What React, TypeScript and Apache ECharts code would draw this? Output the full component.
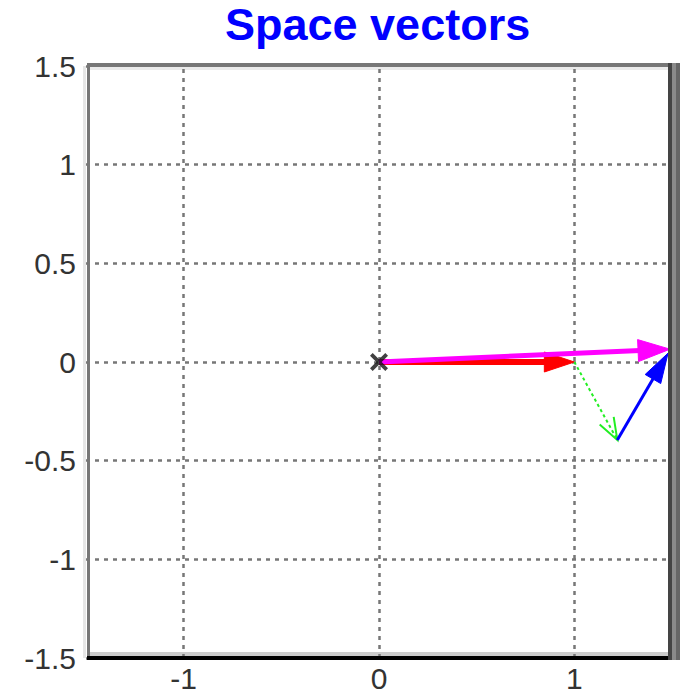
import React, { useEffect, useRef } from "react";
import * as echarts from "echarts";

// ---- data ----
const titleText = "Space vectors";
const xRange = [-1.5, 1.5];
const yRange = [-1.5, 1.5];
const tickStep = 0.5;
const xGridValues = [-1, 0, 1];
// vectors: [x0, y0, x1, y1]
const redVector = [0, 0, 1.0, 0];
const greenVector = [1.0, 0, 1.22, -0.395];
const blueVector = [1.22, -0.395, 1.48, 0.045];
const magentaVector = [0, 0, 1.49, 0.065];
const originMarker = [0, 0];

const FONT = "'Liberation Sans', Arial, Helvetica, sans-serif";

type HeadStyle = "filled" | "open";

function makeArrow(
  color: string,
  width: number,
  dash: number[] | null,
  headLen: number,
  headWid: number,
  head: HeadStyle
) {
  return (_params: any, api: any) => {
    const p0 = api.coord([api.value(0), api.value(1)]);
    const p1 = api.coord([api.value(2), api.value(3)]);
    const dx = p1[0] - p0[0];
    const dy = p1[1] - p0[1];
    const len = Math.hypot(dx, dy) || 1;
    const ux = dx / len;
    const uy = dy / len;
    const px = -uy;
    const py = ux;
    const bx = p1[0] - ux * headLen;
    const by = p1[1] - uy * headLen;
    const left = [bx + (px * headWid) / 2, by + (py * headWid) / 2];
    const right = [bx - (px * headWid) / 2, by - (py * headWid) / 2];
    const lineEnd = head === "filled" ? [bx + ux * 2, by + uy * 2] : p1;
    const children: any[] = [
      {
        type: "line",
        shape: { x1: p0[0], y1: p0[1], x2: lineEnd[0], y2: lineEnd[1] },
        style: {
          stroke: color,
          lineWidth: width,
          lineDash: dash || undefined,
          fill: null,
        },
      },
    ];
    if (head === "filled") {
      children.push({
        type: "polygon",
        shape: { points: [[p1[0], p1[1]], left, right] },
        style: { fill: color, stroke: color, lineWidth: 1 },
      });
    } else {
      children.push({
        type: "polyline",
        shape: { points: [left, [p1[0], p1[1]], right] },
        style: { stroke: color, lineWidth: width, fill: null },
      });
    }
    return { type: "group", children };
  };
}

const gridLineStyle = { type: [4, 5] as number[], color: "#777", width: 2.5 };

export default function App() {
  const ref = useRef<HTMLDivElement>(null);

  useEffect(() => {
    if (!ref.current) return;
    const chart = echarts.init(ref.current, undefined, { renderer: "svg" });

    const option: any = {
      animation: false,
      backgroundColor: "#ffffff",
      title: {
        text: titleText,
        left: 225,
        top: 2,
        padding: 0,
        textStyle: {
          fontSize: 45,
          fontWeight: "bold",
          color: "#0000ff",
          fontFamily: FONT,
        },
      },
      grid: { left: 86, right: 688 - 672, top: 66, bottom: 699 - 658 },
      xAxis: {
        type: "value",
        min: xRange[0],
        max: xRange[1],
        interval: tickStep,
        axisLine: { show: false },
        axisTick: { show: false },
        splitLine: { show: false },
        axisLabel: {
          margin: 5,
          fontSize: 30,
          color: "#333333",
          fontFamily: FONT,
          showMinLabel: false,
          showMaxLabel: false,
          formatter: (v: number) =>
            xGridValues.some((g) => Math.abs(g - v) < 1e-9) ? String(v) : "",
        },
      },
      yAxis: {
        type: "value",
        min: yRange[0],
        max: yRange[1],
        interval: tickStep,
        axisLine: { show: false },
        axisTick: { show: false },
        splitLine: { show: true, lineStyle: gridLineStyle },
        axisLabel: {
          margin: 10,
          fontSize: 30,
          color: "#333333",
          fontFamily: FONT,
          formatter: (v: number) => String(v),
        },
      },
      graphic: [
        // light inner/outer frame lines
        { type: "rect", z: 1, shape: { x: 83, y: 66, width: 3, height: 592 }, style: { fill: "#e6e6e6" } },
        { type: "rect", z: 1, shape: { x: 90, y: 67, width: 578, height: 3 }, style: { fill: "#ebebeb" } },
        { type: "rect", z: 1, shape: { x: 90, y: 652, width: 578, height: 4 }, style: { fill: "#cccccc" } },
        // frame
        { type: "rect", z: 100, shape: { x: 87, y: 63, width: 3, height: 597 }, style: { fill: "#777777" } },
        { type: "rect", z: 100, shape: { x: 87, y: 63, width: 593, height: 4 }, style: { fill: "#777777" } },
        { type: "rect", z: 100, shape: { x: 87, y: 656, width: 585, height: 4 }, style: { fill: "#000000" } },
        { type: "rect", z: 100, shape: { x: 668, y: 63, width: 4, height: 597 }, style: { fill: "#444444" } },
        { type: "rect", z: 100, shape: { x: 672, y: 63, width: 4, height: 597 }, style: { fill: "#8a8a8a" } },
        { type: "rect", z: 100, shape: { x: 676, y: 63, width: 4, height: 597 }, style: { fill: "#666666" } },
      ],
      series: [
        {
          type: "custom",
          name: "red",
          z: 2,
          renderItem: makeArrow("#ff0000", 6, null, 30, 20, "filled"),
          encode: { x: [0, 2], y: [1, 3] },
          data: [redVector],
          markLine: {
            silent: true,
            symbol: ["none", "none"],
            label: { show: false },
            lineStyle: gridLineStyle,
            data: xGridValues.map((v) => ({ xAxis: v })),
          },
        },
        {
          type: "custom",
          name: "green",
          z: 3,
          renderItem: makeArrow("#22ee22", 2, [3, 3], 22, 16, "open"),
          encode: { x: [0, 2], y: [1, 3] },
          data: [greenVector],
        },
        {
          type: "custom",
          name: "blue",
          z: 4,
          renderItem: makeArrow("#0000ff", 3, null, 30, 18, "filled"),
          encode: { x: [0, 2], y: [1, 3] },
          data: [blueVector],
        },
        {
          type: "custom",
          name: "magenta",
          z: 5,
          renderItem: makeArrow("#ff00ff", 5, null, 32, 22, "filled"),
          encode: { x: [0, 2], y: [1, 3] },
          data: [magentaVector],
        },
        {
          type: "scatter",
          name: "origin",
          z: 6,
          symbol:
            "path://M0,3 L3,0 L10,7 L17,0 L20,3 L13,10 L20,17 L17,20 L10,13 L3,20 L0,17 L7,10 Z",
          symbolSize: 18,
          itemStyle: { color: "#111111" },
          data: [originMarker],
        },
      ],
    };

    chart.setOption(option);
    return () => chart.dispose();
  }, []);

  return (
    <div
      ref={ref}
      style={{ position: "fixed", left: 0, top: 0, width: 688, height: 699 }}
    />
  );
}
